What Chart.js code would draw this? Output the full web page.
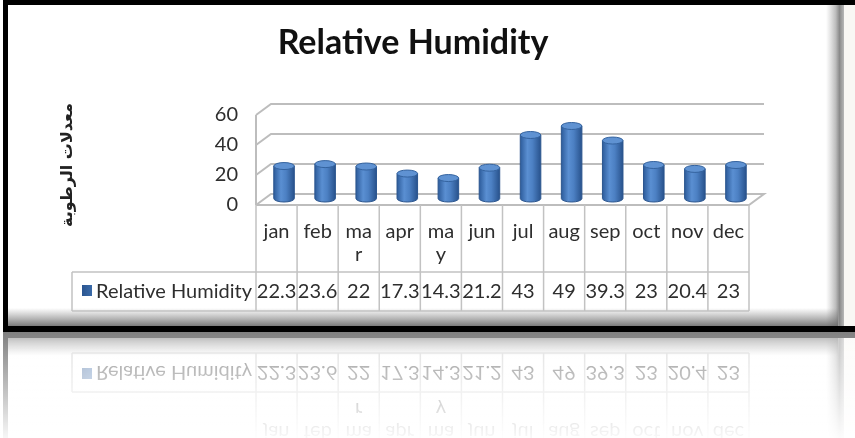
<!DOCTYPE html>
<html>
<head>
<meta charset="utf-8">
<script src="https://cdn.jsdelivr.net/npm/chart.js@4.4.1/dist/chart.umd.min.js"></script>
<style>
html,body{margin:0;padding:0;background:#fff;overflow:hidden;width:855px;height:438px}
#main{position:absolute;left:0;top:0;width:855px;height:332px}
#refl{position:absolute;left:0;top:0;width:855px;height:332px;transform-origin:50% 100%;transform:scaleY(-1);filter:blur(0.6px)}
#fade{position:absolute;left:0;top:332px;width:855px;height:106px;background:linear-gradient(rgba(255,255,255,0.5),rgba(255,255,255,0.97))}
</style>
</head>
<body>
<div id="main"><canvas id="c1" width="855" height="332"></canvas></div>
<div id="refl"><canvas id="c2" width="855" height="332"></canvas></div>
<div id="fade"></div>
<script>
// data
const months = ['jan','feb',['ma','r'],'apr',['ma','y'],'jun','jul','aug','sep','oct','nov','dec'];
const humidity = [22.3,23.6,22,17.3,14.3,21.2,43,49,39.3,23,20.4,23];
const yTicks = [0,20,40,60];
const seriesName = 'Relative Humidity';
const chartTitle = 'Relative Humidity';
const yTitle = 'معدلات الرطوبة';

const FONT = 'Lato, "Open Sans", sans-serif';
const TXT = '#2e2e2e';
const hx = 7.5, hy = 5.5;   // half depth of the 3d box

function txt(ctx, s, x, y, font, align, color){
  ctx.font = font; ctx.textAlign = align || 'center'; ctx.textBaseline = 'middle';
  ctx.fillStyle = color || TXT; ctx.fillText(s, x, y);
}

const box3d = {
  id: 'box3d',
  beforeDraw(chart){
    const ctx = chart.ctx, W = chart.width, H = chart.height;
    ctx.save();
    ctx.fillStyle = '#fff'; ctx.fillRect(0,0,W,H);
    ctx.fillStyle = '#f9f7f4'; ctx.fillRect(843,0,W-843,H);
    // right shadow
    let g = ctx.createLinearGradient(826,0,844,0);
    g.addColorStop(0,'rgba(150,150,150,0)');
    g.addColorStop(0.55,'rgba(130,130,130,0.55)');
    g.addColorStop(0.75,'#8a8a8a');
    g.addColorStop(1,'#b8b8b8');
    ctx.fillStyle = g; ctx.fillRect(826,5,18,H-11);
    // bottom shadow
    g = ctx.createLinearGradient(0,308,0,326);
    g.addColorStop(0,'rgba(120,120,120,0)');
    g.addColorStop(1,'rgba(100,100,100,0.85)');
    ctx.fillStyle = g; ctx.fillRect(8,308,830,18);
    // black frame
    ctx.fillStyle = '#000';
    ctx.fillRect(3,0,W-3,5);
    ctx.fillRect(3,0,5,H);
    ctx.fillRect(3,H-6,W-3,6);
    ctx.restore();
  },
  beforeDatasetsDraw(chart){
    const {ctx, scales:{x, y}} = chart;
    const L = x.left, R = x.right;
    ctx.save();
    ctx.strokeStyle = '#bdbdbd'; ctx.lineWidth = 2;
    yTicks.forEach(v => {
      const ym = y.getPixelForValue(v);
      ctx.beginPath();
      ctx.moveTo(L-hx, ym+hy);
      ctx.lineTo(L+hx, ym-hy);
      ctx.lineTo(R+hx, ym-hy);
      if (v === 0){ ctx.lineTo(R-hx, ym+hy); ctx.lineTo(L-hx, ym+hy); }
      ctx.stroke();
      txt(ctx, String(v), 238, ym+hy, '20px '+FONT, 'right');
    });
    ctx.beginPath();
    ctx.moveTo(L-hx, y.getPixelForValue(yTicks[yTicks.length-1])+hy);
    ctx.lineTo(L-hx, y.getPixelForValue(0)+hy);
    ctx.stroke();
    ctx.restore();
  },
  afterDatasetsDraw(chart){
    const ctx = chart.ctx;
    const meta = chart.getDatasetMeta(0);
    ctx.save();
    meta.data.forEach(el => {
      const rx = el.width/2, ry = 3.5, top = el.y, bot = el.base - 1;
      const g = ctx.createLinearGradient(el.x-rx,0,el.x+rx,0);
      g.addColorStop(0,'#2d5c9b');
      g.addColorStop(0.35,'#5a8fd2');
      g.addColorStop(0.6,'#4c80c3');
      g.addColorStop(1,'#28528c');
      ctx.beginPath();
      ctx.moveTo(el.x-rx, top);
      ctx.lineTo(el.x-rx, bot);
      ctx.ellipse(el.x, bot, rx, ry, 0, Math.PI, 0, true);
      ctx.lineTo(el.x+rx, top);
      ctx.closePath();
      ctx.fillStyle = g; ctx.fill();
      ctx.strokeStyle = '#2b558e'; ctx.lineWidth = 1; ctx.stroke();
      ctx.beginPath();
      ctx.ellipse(el.x, top, rx, ry, 0, 0, Math.PI*2);
      ctx.fillStyle = '#5f92d2'; ctx.fill();
      ctx.strokeStyle = '#34639f'; ctx.stroke();
    });
    ctx.restore();
  },
  afterDraw(chart){
    const {ctx, scales:{x, y}} = chart;
    const n = months.length;
    const step = (x.right - x.left)/n;
    const yTop = y.getPixelForValue(0)+hy, ySplit = 272, yBot = 311, tLeft = 72;
    const fR = x.right - hx;
    ctx.save();
    ctx.strokeStyle = '#c2c2c2'; ctx.lineWidth = 1.5;
    ctx.beginPath();
    ctx.moveTo(tLeft, ySplit); ctx.lineTo(fR, ySplit);
    ctx.moveTo(tLeft, yBot); ctx.lineTo(fR, yBot);
    ctx.moveTo(tLeft, ySplit); ctx.lineTo(tLeft, yBot);
    for (let i = 0; i <= n; i++){
      const bx = x.left - hx + i*step;
      ctx.moveTo(bx, yTop); ctx.lineTo(bx, yBot);
    }
    ctx.stroke();
    months.forEach((m, i) => {
      const cx = x.getPixelForValue(i) - hx;
      const lines = Array.isArray(m) ? m : [m];
      lines.forEach((s, k) => txt(ctx, s, cx, 232 + k*23, '20px '+FONT));
      txt(ctx, String(humidity[i]), cx, 292, '20px '+FONT);
    });
    // legend key in table
    const g = ctx.createLinearGradient(82,0,92,0);
    g.addColorStop(0,'#2a5590'); g.addColorStop(1,'#3a6aa8');
    ctx.fillStyle = g; ctx.fillRect(82,285,10,11);
    txt(ctx, seriesName, 96, 292, '20px '+FONT, 'left');
    // title
    txt(ctx, chartTitle, 413, 43, 'bold 34px '+FONT, 'center', '#111');
    // y axis title
    ctx.translate(68, 165); ctx.rotate(-Math.PI/2);
    txt(ctx, yTitle, 0, 0, 'bold 16px "DejaVu Sans", sans-serif', 'center', '#222');
    ctx.restore();
  }
};

function makeChart(id){
  return new Chart(document.getElementById(id), {
    type: 'bar',
    data: { labels: months, datasets: [{ label: seriesName, data: humidity,
      backgroundColor: 'rgba(0,0,0,0)', borderWidth: 0, barPercentage: 0.5, categoryPercentage: 1 }] },
    options: {
      responsive: false, animation: false, devicePixelRatio: 1,
      layout: { padding: { left: 263.5, right: 98.5, top: 109.5, bottom: 132.5 } },
      plugins: { legend: { display: false }, title: { display: false }, tooltip: { enabled: false } },
      scales: { x: { display: false }, y: { display: false, min: 0, max: 60 } }
    },
    plugins: [box3d]
  });
}
makeChart('c1');
makeChart('c2');
</script>
</body>
</html>
